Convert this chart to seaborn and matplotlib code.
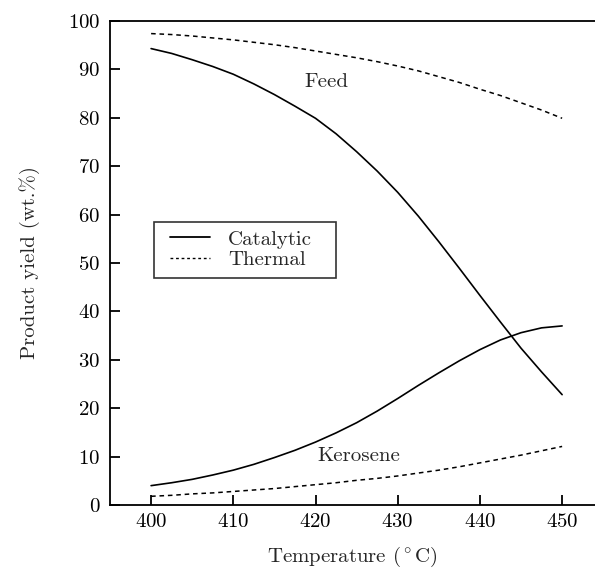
import matplotlib
matplotlib.use("Agg")
import matplotlib.pyplot as plt
import seaborn as sns
import pandas as pd
from matplotlib.lines import Line2D
from matplotlib.legend_handler import HandlerLine2D

temperature = [400, 402.5, 405, 407.5, 410, 412.5, 415, 417.5, 420, 422.5, 425,
               427.5, 430, 432.5, 435, 437.5, 440, 442.5, 445, 447.5, 450]
feed_catalytic = [94.3, 93.3, 92.0, 90.6, 89.0, 87.0, 84.8, 82.4, 79.9, 76.7, 73.0,
                  69.0, 64.6, 59.7, 54.4, 48.9, 43.3, 37.8, 32.4, 27.5, 22.8]
feed_thermal = [97.4, 97.2, 96.9, 96.5, 96.1, 95.6, 95.1, 94.5, 93.8, 93.1, 92.4,
                91.6, 90.7, 89.7, 88.5, 87.3, 85.9, 84.6, 83.1, 81.6, 79.9]
kero_catalytic = [4.0, 4.6, 5.3, 6.2, 7.2, 8.4, 9.8, 11.3, 13.0, 14.9, 17.0,
                  19.4, 22.0, 24.7, 27.3, 29.8, 32.1, 34.1, 35.6, 36.6, 37.0]
kero_thermal = [1.8, 2.0, 2.3, 2.5, 2.8, 3.1, 3.4, 3.8, 4.2, 4.6, 5.1,
                5.5, 6.0, 6.6, 7.2, 7.9, 8.7, 9.5, 10.3, 11.2, 12.1]
xticks = [400, 410, 420, 430, 440, 450]
yticks = [0, 10, 20, 30, 40, 50, 60, 70, 80, 90, 100]

sns.set_style("white")
plt.rcParams["font.family"] = ["cmr10", "DejaVu Serif"]
plt.rcParams["mathtext.fontset"] = "cm"
plt.rcParams["axes.formatter.use_mathtext"] = True

FS = 15

fig = plt.figure(figsize=(5.95, 5.74), dpi=100)
ax = fig.add_axes([110/595, 1-505/574, 1-110/595, (505-21)/574])

series = [
    ("Feed", "Catalytic", feed_catalytic),
    ("Feed", "Thermal", feed_thermal),
    ("Kerosene", "Catalytic", kero_catalytic),
    ("Kerosene", "Thermal", kero_thermal),
]
rows = []
for prod, mode, vals in series:
    for t, v in zip(temperature, vals):
        rows.append({"T": t, "y": v, "product": prod, "mode": mode})
df = pd.DataFrame(rows)

for (prod, mode), g in df.groupby(["product", "mode"]):
    sns.lineplot(data=g, x="T", y="y", ax=ax, color="black",
                 linewidth=1.2 if mode == "Catalytic" else 1.1,
                 linestyle="-" if mode == "Catalytic" else (0, (3, 2.5)),
                 legend=False)

ax.set_xlim(395, 454)
ax.set_ylim(0, 100)
ax.set_xticks(xticks)
ax.set_yticks(yticks)
ax.tick_params(direction="in", length=7, width=1.3, labelsize=FS, colors="black",
               left=True, bottom=True)
ax.tick_params(axis="y", pad=7)
ax.tick_params(axis="x", pad=6)
for s in ["left", "bottom", "top"]:
    ax.spines[s].set_color("black")
    ax.spines[s].set_linewidth(1.3)
ax.spines["right"].set_visible(False)

ax.set_xlabel(r"Temperature ($^\circ$C)", fontsize=FS, labelpad=10)
ax.set_ylabel("Product yield (wt.%)", fontsize=FS, labelpad=20)

ax.text(421.3, 87.4, "Feed", fontsize=FS, ha="center", va="center")
ax.text(425.3, 10.1, "Kerosene", fontsize=FS, ha="center", va="center")

handles = [Line2D([], [], color="black", lw=1.3, ls="-"),
           Line2D([], [], color="black", lw=1.0, ls=(0, (2, 2)))]
hmap = {h: HandlerLine2D(xpad=0.37) for h in handles}
top = 1 - (221.7 - 21) / 484
leg = ax.legend(handles, ["Catalytic", "Thermal"], loc="upper left",
                bbox_to_anchor=((154.3 - 110) / 485, top - 0.3, 181.4 / 485, 0.3),
                mode="expand", fontsize=FS, handler_map=hmap,
                frameon=True, fancybox=False, edgecolor="black",
                handlelength=2.29, borderpad=0.4, labelspacing=0.1,
                handletextpad=0.86, borderaxespad=0)
leg.get_frame().set_linewidth(1.2)

fig.savefig("out.png", dpi=100)
